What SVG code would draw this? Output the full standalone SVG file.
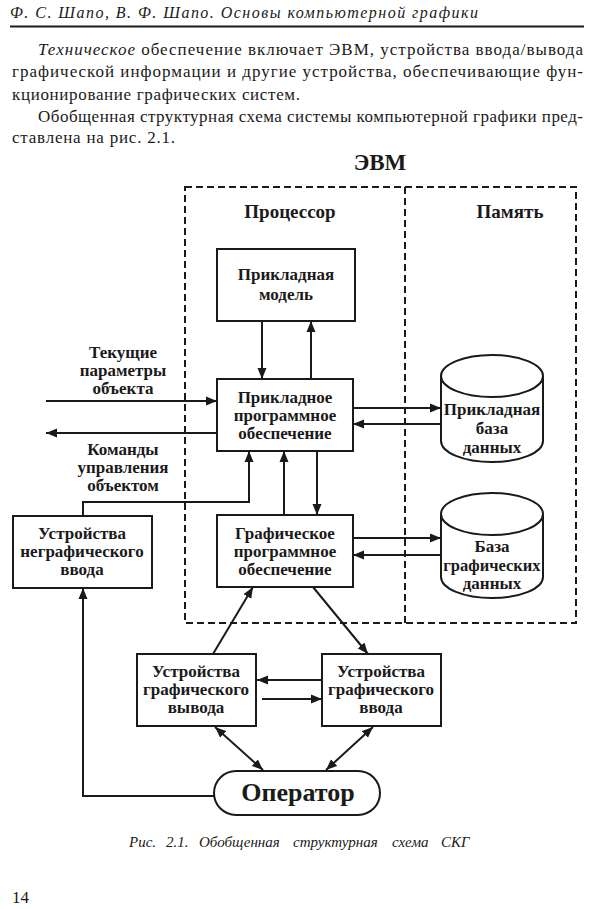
<svg xmlns="http://www.w3.org/2000/svg" width="600" height="909" viewBox="0 0 600 909">
<defs>
<marker id="ah" markerUnits="userSpaceOnUse" markerWidth="11" markerHeight="10" refX="11" refY="5" orient="auto-start-reverse">
<path d="M0,0.5 L11,5 L0,9.5 z" fill="#1a1a1a"/>
</marker>
<style>
.pg{font-family:"Liberation Serif","DejaVu Serif",serif;fill:#1a1a1a}
.t{font-family:"Liberation Serif","DejaVu Serif",serif;font-weight:bold;font-size:17px;fill:#1a1a1a;text-anchor:middle}
.box{fill:#fff;stroke:#1a1a1a;stroke-width:2}
.dash{fill:none;stroke:#1a1a1a;stroke-width:2;stroke-dasharray:7 4}
.c path{fill:none;stroke:#1a1a1a;stroke-width:2;marker-end:url(#ah)}
</style>
</defs>
<rect width="600" height="909" fill="#fff"/>

<!-- header and text -->
<text class="pg" x="10" y="18" style="font-size:16px;font-style:italic" textLength="468" lengthAdjust="spacing">Ф. С. Шапо, В. Ф. Шапо. Основы компьютерной графики</text>
<line x1="10" y1="26.5" x2="584" y2="26.5" stroke="#1a1a1a" stroke-width="2"/>
<text class="pg" x="38" y="55" style="font-size:17px" textLength="545" lengthAdjust="spacing"><tspan font-style="italic">Техническое</tspan> обеспечение включает ЭВМ, устройства ввода/вывода</text>
<text class="pg" x="12" y="77" style="font-size:17px" textLength="571" lengthAdjust="spacing">графической информации и другие устройства, обеспечивающие фун-</text>
<text class="pg" x="12" y="100" style="font-size:17px" textLength="288" lengthAdjust="spacing">кционирование графических систем.</text>
<text class="pg" x="38" y="122" style="font-size:17px" textLength="545" lengthAdjust="spacing">Обобщенная структурная схема системы компьютерной графики пред-</text>
<text class="pg" x="12" y="143" style="font-size:17px" textLength="163" lengthAdjust="spacing">ставлена на рис. 2.1.</text>

<!-- EVM container -->
<g id="evm">
<text class="t" x="380" y="170" style="font-size:23px">ЭВМ</text>
<rect class="dash" x="185" y="187" width="391" height="436"/>
<line class="dash" x1="405" y1="187" x2="405" y2="623"/>
<text class="t" x="290" y="218" style="font-size:19px">Процессор</text>
<text class="t" x="510" y="218" style="font-size:19px">Память</text>
</g>

<g id="app-model">
<rect class="box" x="217" y="249" width="138" height="72"/>
<text class="t" x="286" y="280">Прикладная</text>
<text class="t" x="286" y="300">модель</text>
</g>

<g id="app-software">
<rect class="box" x="217" y="379" width="136" height="72"/>
<text class="t" x="285" y="403">Прикладное</text>
<text class="t" x="285" y="421">программное</text>
<text class="t" x="285" y="439">обеспечение</text>
</g>

<g id="graph-software">
<rect class="box" x="217" y="515" width="136" height="72"/>
<text class="t" x="285" y="539">Графическое</text>
<text class="t" x="285" y="557">программное</text>
<text class="t" x="285" y="575">обеспечение</text>
</g>

<g id="app-db">
<path class="box" d="M441,376 A51,21 0 0 1 543,376 V441 A51,21 0 0 1 441,441 Z"/>
<path d="M441,376 A51,21 0 0 0 543,376" fill="none" stroke="#1a1a1a" stroke-width="2"/>
<text class="t" x="492" y="415">Прикладная</text>
<text class="t" x="492" y="434">база</text>
<text class="t" x="492" y="453">данных</text>
</g>

<g id="graph-db">
<path class="box" d="M441,514 A51,21 0 0 1 543,514 V577 A51,21 0 0 1 441,577 Z"/>
<path d="M441,514 A51,21 0 0 0 543,514" fill="none" stroke="#1a1a1a" stroke-width="2"/>
<text class="t" x="492" y="552">База</text>
<text class="t" x="492" y="571" style="font-size:16.5px">графических</text>
<text class="t" x="492" y="589">данных</text>
</g>

<g id="nongraph-input">
<rect class="box" x="13" y="516" width="139" height="72"/>
<text class="t" x="82" y="539">Устройства</text>
<text class="t" x="82" y="557">неграфического</text>
<text class="t" x="82" y="575">ввода</text>
</g>

<g id="graph-output">
<rect class="box" x="137" y="654" width="119" height="72"/>
<text class="t" x="196" y="677">Устройства</text>
<text class="t" x="196" y="695">графического</text>
<text class="t" x="196" y="713">вывода</text>
</g>

<g id="graph-input">
<rect class="box" x="322" y="654" width="119" height="72"/>
<text class="t" x="381" y="677">Устройства</text>
<text class="t" x="381" y="695">графического</text>
<text class="t" x="381" y="713">ввода</text>
</g>

<g id="operator">
<rect class="box" x="214" y="771" width="166" height="44" rx="22" ry="22"/>
<text class="t" x="298" y="801" style="font-size:26px">Оператор</text>
</g>

<g id="labels">
<text class="t" x="123" y="358">Текущие</text>
<text class="t" x="123" y="376">параметры</text>
<text class="t" x="123" y="394">объекта</text>
<text class="t" x="123" y="455">Команды</text>
<text class="t" x="123" y="473">управления</text>
<text class="t" x="123" y="491">объектом</text>
</g>

<g id="connectors" class="c">
<path d="M262,321 V379"/>
<path d="M311,379 V321"/>
<path d="M46,401 H217"/>
<path d="M217,433 H46"/>
<path d="M83,516 V502 H249 V451"/>
<path d="M284,515 V451"/>
<path d="M317,451 V515"/>
<path d="M353,408 H441"/>
<path d="M441,424 H353"/>
<path d="M353,538 H441"/>
<path d="M441,555 H353"/>
<path d="M213,654 L253,587"/>
<path d="M313,587 L368,654"/>
<path d="M322,680 H257"/>
<path d="M262,699 H322"/>
<path d="M215,727 L263,770" style="marker-start:url(#ah)"/>
<path d="M373,727 L326,770" style="marker-start:url(#ah)"/>
<path d="M214,796 H83 V588"/>
</g>

<text class="pg" y="847" style="font-size:15px;font-style:italic"><tspan x="129">Рис.</tspan><tspan x="166">2.1.</tspan><tspan x="199">Обобщенная</tspan><tspan x="293">структурная</tspan><tspan x="392">схема</tspan><tspan x="441">СКГ</tspan></text>
<text class="pg" x="12" y="903" style="font-size:17px">14</text>
</svg>
